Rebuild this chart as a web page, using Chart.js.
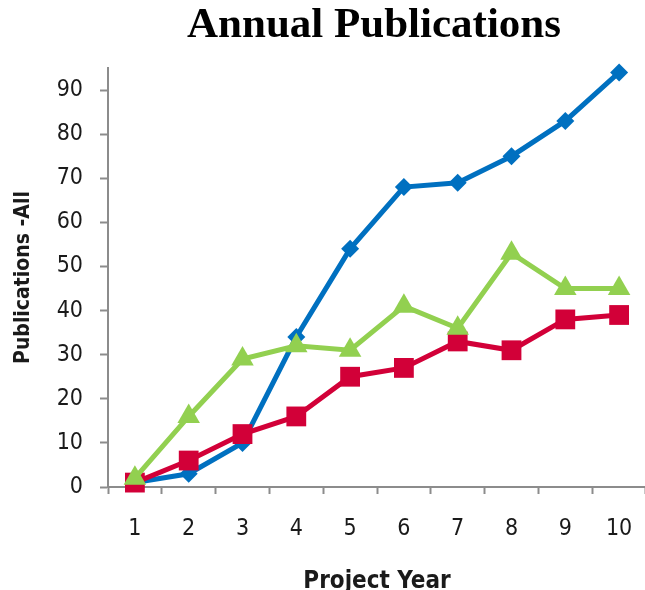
<!DOCTYPE html>
<html>
<head>
<meta charset="utf-8">
<title>Annual Publications</title>
<script src="https://cdn.jsdelivr.net/npm/chart.js@4.4.1/dist/chart.umd.min.js"></script>
<style>
  html, body { margin: 0; padding: 0; background: #ffffff; overflow: hidden; }
  #chart { display: block; }
</style>
</head>
<body>
<!-- a bit wider than the window: the slide's x axis runs off the right edge -->
<canvas id="chart" width="660" height="590"></canvas>
<script>
// Annual publications per project year, three series

const projectYears = ['1', '2', '3', '4', '5', '6', '7', '8', '9', '10'];
const blueSeries = [1, 3, 10, 34, 54, 68, 69, 75, 83, 94];
const redSeries = [1, 6, 12, 16, 25, 27, 33, 31, 38, 39];
const greenSeries = [2, 16, 29, 32, 31, 41, 36, 53, 45, 45];
const yTickValues = [0, 10, 20, 30, 40, 50, 60, 70, 80, 90];

const narrowFont = "'Liberation Sans Narrow', 'Arial Narrow', 'DejaVu Sans Condensed', sans-serif";
const axisColor = '#8c8c8c';

// Title drawn at a fixed spot, like the slide
const titlePlugin = {
  id: 'slideTitle',
  afterDraw(chart) {
    const ctx = chart.ctx;
    ctx.save();
    ctx.font = "bold 43px 'Liberation Serif', 'Times New Roman', serif";
    ctx.fillStyle = '#000000';
    ctx.textAlign = 'center';
    ctx.textBaseline = 'alphabetic';
    ctx.fillText('Annual Publications', 374, 37);
    ctx.restore();
  }
};

function lineSet(data, color, style, radius) {
  return {
    data: data,
    borderColor: color,
    backgroundColor: color,
    borderWidth: 5,
    tension: 0,
    pointStyle: style,
    pointRadius: radius,
    pointHoverRadius: radius,
    pointBackgroundColor: color,
    pointBorderWidth: 0,
    clip: false
  };
}

const ctx = document.getElementById('chart').getContext('2d');

new Chart(ctx, {
  type: 'line',
  data: {
    labels: projectYears,
    // green drawn on top, blue at the bottom
    datasets: [
      lineSet(greenSeries, '#92d050', 'triangle', 13),
      lineSet(redSeries, '#d20038', 'rect', 14),
      lineSet(blueSeries, '#0070c0', 'rectRot', 9)
    ]
  },
  options: {
    responsive: false,
    animation: false,
    devicePixelRatio: 1,
    layout: {
      padding: { top: 68, left: 0, right: 0, bottom: 0 }
    },
    plugins: {
      legend: { display: false },
      tooltip: { enabled: false },
      title: { display: false }
    },
    scales: {
      x: {
        type: 'category',
        offset: true,
        grid: {
          offset: true,
          drawOnChartArea: false,
          drawTicks: true,
          tickLength: 7,
          tickWidth: 2,
          color: axisColor
        },
        border: { color: axisColor, width: 2 },
        ticks: {
          color: '#1a1a1a',
          padding: 21,
          maxRotation: 0,
          font: { family: narrowFont, size: 23 }
        },
        title: {
          display: true,
          text: 'Project Year',
          color: '#1a1a1a',
          padding: { top: 0, bottom: -6 },
          font: { family: narrowFont, size: 24, weight: 'bold' }
        },
        afterFit(scale) {
          scale.height = 103;
        }
      },
      y: {
        min: 0,
        max: 95,
        grid: {
          drawOnChartArea: false,
          drawTicks: true,
          tickLength: 8,
          tickWidth: 2,
          color: axisColor
        },
        border: { color: axisColor, width: 2 },
        ticks: {
          stepSize: 10,
          color: '#1a1a1a',
          padding: 17,
          font: { family: narrowFont, size: 23 }
        },
        afterBuildTicks(scale) {
          scale.ticks = yTickValues.map(v => ({ value: v }));
        },
        title: {
          display: true,
          text: 'Publications -All',
          color: '#1a1a1a',
          padding: { top: 11, bottom: 0 },
          font: { family: narrowFont, size: 21, weight: 'bold' }
        },
        afterFit(scale) {
          scale.width = 108;
        }
      }
    }
  },
  plugins: [titlePlugin]
});
</script>
</body>
</html>
